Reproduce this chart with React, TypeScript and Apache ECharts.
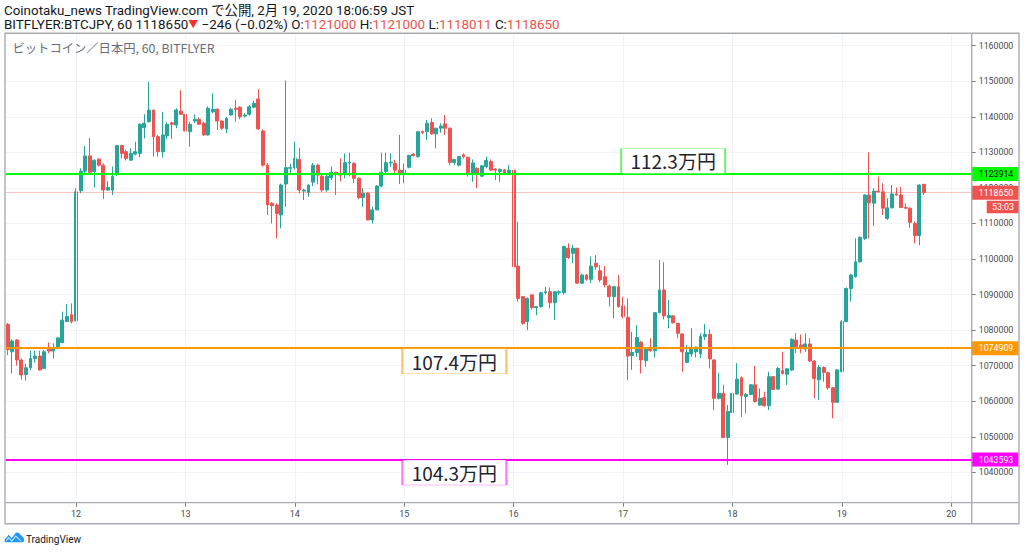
import React, { useEffect, useRef } from "react";
import * as echarts from "echarts";

// ---- Data: hourly candles per day, each tuple = [open, high, low, close] ----
const FEB11: number[][] = [
  [1081600, 1082000, 1073000, 1074500],
  [1073900, 1077400, 1067800, 1076900],
  [1077200, 1077500, 1070000, 1071600],
  [1071600, 1072000, 1066100, 1067400],
  [1067500, 1070500, 1065800, 1069400],
  [1069400, 1074200, 1068800, 1072000],
  [1072000, 1074200, 1070800, 1072700],
  [1072700, 1074200, 1068600, 1068800],
  [1069200, 1074400, 1069000, 1073900],
  [1074800, 1076500, 1073500, 1074100],
  [1074100, 1076300, 1072000, 1074800],
  [1074800, 1078000, 1074600, 1077800],
  [1076500, 1085200, 1076300, 1082800],
  [1082400, 1087300, 1082300, 1083800],
  [1084300, 1087500, 1081900, 1082400],
];
const FEB12: number[][] = [
  [1082600, 1119900, 1082400, 1118900],
  [1119200, 1125500, 1118500, 1124700],
  [1124700, 1131800, 1124100, 1129000],
  [1129000, 1134000, 1124100, 1124400],
  [1124600, 1128000, 1120100, 1127800],
  [1128100, 1128300, 1126000, 1126400],
  [1126400, 1126900, 1116900, 1119400],
  [1119400, 1121900, 1119200, 1120100],
  [1119400, 1126000, 1118000, 1123300],
  [1123900, 1132100, 1123300, 1131900],
  [1131900, 1132100, 1128300, 1129700],
  [1130200, 1130700, 1127700, 1128300],
  [1127800, 1131100, 1127700, 1129700],
  [1129500, 1133000, 1129200, 1130200],
  [1129700, 1138200, 1128600, 1137900],
  [1136900, 1140700, 1133900, 1138200],
  [1138600, 1149900, 1138400, 1141900],
  [1141900, 1142000, 1128800, 1134400],
  [1134400, 1134900, 1128800, 1130200],
  [1130200, 1141400, 1128500, 1134900],
  [1134700, 1138400, 1133700, 1137900],
  [1138300, 1138600, 1133700, 1137900],
  [1137700, 1142400, 1136800, 1141900],
  [1141600, 1147500, 1140500, 1140700],
];
const FEB13: number[][] = [
  [1140700, 1141000, 1130000, 1136000],
  [1135800, 1138600, 1131600, 1137900],
  [1138800, 1140700, 1138200, 1139300],
  [1139300, 1139800, 1137700, 1137900],
  [1138200, 1138600, 1134700, 1134900],
  [1134900, 1142900, 1134700, 1142400],
  [1141400, 1146600, 1141000, 1142100],
  [1142100, 1142400, 1136300, 1138800],
  [1138800, 1139000, 1136300, 1136800],
  [1136600, 1140000, 1135400, 1139600],
  [1140500, 1142600, 1140300, 1142100],
  [1142400, 1144700, 1138600, 1142100],
  [1142700, 1143000, 1139300, 1140000],
  [1140200, 1141000, 1139800, 1140500],
  [1140700, 1143300, 1140300, 1142800],
  [1142700, 1144500, 1142400, 1143800],
  [1145000, 1147800, 1136300, 1136600],
  [1136000, 1136500, 1126000, 1126400],
  [1126400, 1127000, 1112400, 1115200],
  [1115700, 1116000, 1110000, 1115000],
  [1115200, 1115700, 1105800, 1112800],
  [1112400, 1121200, 1108600, 1120800],
  [1121100, 1150200, 1114700, 1125700],
  [1125500, 1126800, 1124000, 1125700],
];
const FEB14: number[][] = [
  [1125700, 1133000, 1125200, 1128300],
  [1128000, 1131300, 1118400, 1119400],
  [1119100, 1119700, 1116600, 1119400],
  [1118700, 1121000, 1117500, 1120800],
  [1121600, 1127000, 1120500, 1126400],
  [1126400, 1126800, 1121000, 1123600],
  [1123300, 1123800, 1118800, 1119400],
  [1119400, 1124100, 1118900, 1123300],
  [1122900, 1126000, 1122200, 1124400],
  [1124400, 1124500, 1118000, 1124000],
  [1124000, 1128300, 1121800, 1123600],
  [1124100, 1129700, 1122700, 1127100],
  [1127000, 1129900, 1123200, 1127200],
  [1126900, 1127200, 1121300, 1122700],
  [1122700, 1123000, 1116800, 1117300],
  [1117300, 1119900, 1114700, 1118500],
  [1118500, 1118800, 1110900, 1111000],
  [1111000, 1114700, 1110000, 1113800],
  [1113800, 1120800, 1113800, 1120500],
  [1120500, 1129900, 1120200, 1124400],
  [1124600, 1129900, 1123900, 1127100],
  [1127000, 1129700, 1125900, 1127200],
  [1126900, 1127900, 1124100, 1125000],
  [1125000, 1134900, 1121100, 1124100],
];
const FEB15: number[][] = [
  [1124100, 1126900, 1121300, 1125000],
  [1125800, 1129300, 1125500, 1129100],
  [1129500, 1129800, 1128800, 1129100],
  [1128800, 1136000, 1128500, 1135800],
  [1135800, 1136100, 1135100, 1135500],
  [1135800, 1139100, 1133500, 1138200],
  [1138400, 1139600, 1134900, 1135200],
  [1135200, 1136800, 1131100, 1136800],
  [1136800, 1138200, 1135500, 1137400],
  [1138000, 1140500, 1134900, 1136800],
  [1136800, 1137000, 1126400, 1127200],
  [1127100, 1128100, 1126400, 1128000],
  [1126400, 1129000, 1126000, 1128800],
  [1129300, 1129700, 1128300, 1128800],
  [1128600, 1128800, 1123200, 1124100],
  [1123900, 1128000, 1121700, 1127000],
  [1125500, 1125800, 1119900, 1124100],
  [1123300, 1126500, 1123000, 1126200],
  [1126000, 1128800, 1125500, 1127700],
  [1127400, 1128000, 1124800, 1125000],
  [1125300, 1125500, 1122200, 1125000],
  [1124600, 1125500, 1121700, 1125200],
  [1125100, 1125300, 1123900, 1124100],
  [1124100, 1126400, 1123800, 1125000],
];
const FEB16: number[][] = [
  [1125000, 1125300, 1097500, 1097800],
  [1098000, 1110500, 1088000, 1088900],
  [1089400, 1089600, 1081500, 1081900],
  [1082400, 1089200, 1080000, 1088900],
  [1089900, 1090200, 1085800, 1086300],
  [1086300, 1086800, 1084200, 1086600],
  [1086600, 1090800, 1086300, 1090500],
  [1090500, 1092200, 1090000, 1090800],
  [1090800, 1092000, 1086100, 1087700],
  [1087700, 1091000, 1082800, 1090800],
  [1090500, 1091200, 1089900, 1090800],
  [1090500, 1103800, 1090000, 1103500],
  [1103000, 1104400, 1100000, 1100400],
  [1101600, 1103900, 1098800, 1103000],
  [1103000, 1103200, 1093000, 1093200],
  [1093200, 1095800, 1093000, 1095500],
  [1095500, 1095800, 1093900, 1094300],
  [1094300, 1100700, 1093200, 1098000],
  [1098800, 1101100, 1097000, 1097800],
  [1096700, 1098300, 1093500, 1094100],
  [1095000, 1098000, 1092000, 1092700],
  [1092400, 1092800, 1086600, 1089400],
  [1089400, 1092500, 1083300, 1092200],
  [1092200, 1095500, 1086300, 1086600],
];
const FEB17: number[][] = [
  [1086800, 1089400, 1083300, 1083800],
  [1083600, 1088900, 1066000, 1072700],
  [1072800, 1079500, 1068800, 1073700],
  [1073700, 1081400, 1072500, 1077900],
  [1076600, 1077000, 1067800, 1071600],
  [1071400, 1075000, 1069700, 1074700],
  [1074700, 1077700, 1073900, 1074200],
  [1074200, 1085000, 1072300, 1084900],
  [1084900, 1099700, 1084700, 1091300],
  [1091300, 1099100, 1083000, 1084000],
  [1083500, 1088500, 1080500, 1084100],
  [1084000, 1084200, 1081800, 1082100],
  [1081900, 1082000, 1077700, 1079100],
  [1078900, 1079100, 1068300, 1073900],
  [1070900, 1075800, 1070700, 1073700],
  [1073300, 1080500, 1072500, 1074700],
  [1073900, 1075400, 1072300, 1075200],
  [1073300, 1079100, 1072100, 1078200],
  [1078200, 1081700, 1077200, 1078800],
  [1078800, 1080200, 1069200, 1071900],
  [1071600, 1071800, 1057500, 1060800],
  [1060800, 1068000, 1060500, 1062200],
  [1062200, 1064600, 1049600, 1049800],
  [1049800, 1058900, 1042100, 1057100],
];
const FEB18: number[][] = [
  [1056800, 1062500, 1050500, 1062200],
  [1062000, 1070700, 1061800, 1066200],
  [1066600, 1067000, 1055600, 1061500],
  [1061300, 1062300, 1056600, 1061900],
  [1061900, 1064800, 1061700, 1064600],
  [1064600, 1069900, 1059600, 1059900],
  [1058900, 1063600, 1058700, 1060800],
  [1061000, 1062700, 1058500, 1058700],
  [1058700, 1068300, 1057500, 1066900],
  [1066900, 1067100, 1063200, 1063300],
  [1063400, 1069700, 1063200, 1069200],
  [1068600, 1073900, 1067500, 1067800],
  [1067600, 1069300, 1064600, 1069100],
  [1068800, 1077700, 1068500, 1077400],
  [1077200, 1079100, 1073500, 1075300],
  [1075800, 1078800, 1073500, 1075300],
  [1074700, 1079100, 1073900, 1076100],
  [1076100, 1077700, 1071000, 1071300],
  [1071300, 1071500, 1060800, 1066400],
  [1066000, 1070200, 1060300, 1069500],
  [1069500, 1069800, 1065500, 1068100],
  [1068000, 1068300, 1063200, 1063800],
  [1063800, 1064000, 1055200, 1059700],
  [1059700, 1069000, 1059500, 1068800],
];
const FEB19: number[][] = [
  [1068300, 1082800, 1068100, 1082400],
  [1082400, 1092000, 1082200, 1091700],
  [1091700, 1095800, 1088000, 1095500],
  [1095000, 1105800, 1094800, 1099200],
  [1099200, 1106300, 1099000, 1106100],
  [1105800, 1118200, 1105300, 1118000],
  [1118000, 1130000, 1105800, 1115800],
  [1115700, 1119900, 1109300, 1119100],
  [1119100, 1123200, 1118700, 1118900],
  [1118900, 1121300, 1112400, 1114300],
  [1111400, 1117100, 1111000, 1114400],
  [1114400, 1120800, 1114200, 1118300],
  [1118300, 1120100, 1117800, 1118000],
  [1118000, 1120300, 1114300, 1114500],
  [1114500, 1115700, 1114000, 1114300],
  [1114300, 1114500, 1108800, 1110300],
  [1110000, 1110500, 1104400, 1106600],
  [1106600, 1121000, 1103900, 1120800],
  [1121000, 1121000, 1118011, 1118650],
];

const DAYS: number[][][] = [FEB11, FEB12, FEB13, FEB14, FEB15, FEB16, FEB17, FEB18, FEB19];
const START_DAY = 11;
const START_HOUR = 9;
const SLOT_COUNT = 212; // hourly slots shown on the axis (data + empty space on the right)

// Horizontal levels (support / resistance)
const LEVEL_VALUES = [1123914, 1074909, 1043593];
const LEVEL_COLORS = ["#00ff00", "#ff9800", "#ff00ff"];
const LEVEL_TAG_TEXT = ["#000000", "#ffffff", "#ffffff"];
const LEVEL_BOX_TEXT = ["112.3万円", "107.4万円", "104.3万円"];
const LEVEL_BOX_BORDER = ["rgba(0,230,0,0.55)", "rgba(255,152,0,0.6)", "rgba(255,0,255,0.55)"];
const LEVEL_BOX_SLOT = ["2/17 11:00", "2/15 11:00", "2/15 11:00"];
const LEVEL_BOX_SIDE = [-1, 1, 1]; // -1 above the line, 1 below

const Y_MIN = 1031450;
const Y_MAX = 1163570;
const Y_STEP = 10000;

const PUBLISH_LINE = "Coinotaku_news TradingView.com で公開, 2月 19, 2020 18:06:59 JST";
const SYMBOL_LINE = "BITFLYER:BTCJPY, 60";
const CHANGE_TEXT = "−246 (−0.02%)";
const CHART_TITLE = "ビットコイン／日本円, 60, BITFLYER";
const COUNTDOWN = "53:03";

const UP = "#26a69a";
const DOWN = "#ef5350";
const FONT = 'Roboto, "Noto Sans CJK JP", sans-serif';
const CJK = '"Noto Sans CJK JP", Roboto, sans-serif';

echarts.graphic.registerShape(
  "tvlogo",
  echarts.graphic.extendPath(
    "M2 10 C0 10 0 6.5 2 6 L4.6 2.4 L7.8 5.8 L11.6 0.6 C13 -0.2 14.2 0 15.4 1.2 L19 5 C21 6.6 20.5 10 18 10 Z",
    {}
  )
);

function slotName(k: number): string {
  const h = START_HOUR + k;
  const day = START_DAY + Math.floor(h / 24);
  const hour = h % 24;
  return `2/${day} ${hour < 10 ? "0" + hour : hour}:00`;
}

export default function App() {
  const ref = useRef<HTMLDivElement>(null);

  useEffect(() => {
    const el = ref.current;
    if (!el) return;
    const chart = echarts.init(el, null, { renderer: "svg" });

    const candles = DAYS.flat();
    const cats = Array.from({ length: SLOT_COUNT }, (_, k) => slotName(k));
    const seriesData = candles.map(([o, h, l, c]) => [o, c, l, h]);
    const last = candles[candles.length - 1];
    const lastClose = last[3];
    const isDayStart = (index: number) => (START_HOUR + index) % 24 === 0;
    const daySlots = cats.filter((_, k) => isDayStart(k));

    const tagLabel = (bg: string, fg: string) => ({
      show: true,
      position: "end",
      distance: 0,
      backgroundColor: bg,
      color: fg,
      fontSize: 8.8,
      fontFamily: FONT,
      lineHeight: 9,
      padding: [2.5, 4, 2.5, 7],
      width: 36,
      align: "left",
    });

    const levelLines: any[] = LEVEL_VALUES.map((v, k) => ({
      yAxis: v,
      lineStyle: { color: LEVEL_COLORS[k], width: 2, type: "solid" },
      label: { ...tagLabel(LEVEL_COLORS[k], LEVEL_TAG_TEXT[k]), formatter: String(v) },
    }));
    levelLines.push({
      yAxis: lastClose,
      lineStyle: { color: "rgba(239,83,80,0.35)", width: 1, type: "solid" },
      label: { ...tagLabel(DOWN, "#ffffff"), formatter: String(lastClose) },
    });

    const option: any = {
      animation: false,
      backgroundColor: "#ffffff",
      grid: { left: 5.4, top: 33, right: 52.3, bottom: 49.3, containLabel: false },
      xAxis: {
        type: "category",
        data: cats,
        boundaryGap: true,
        axisLine: { show: false },
        axisTick: {
          show: true,
          alignWithLabel: true,
          interval: (i: number) => isDayStart(i),
          length: 4,
          lineStyle: { color: "#787b86" },
        },
        axisLabel: {
          interval: (i: number) => isDayStart(i),
          formatter: (v: string) => v.split(" ")[0].split("/")[1],
          fontSize: 9,
          color: "#4a4a4a",
          fontFamily: FONT,
          margin: 7,
        },
        splitLine: { show: false },
      },
      yAxis: {
        type: "value",
        position: "right",
        min: Y_MIN,
        max: Y_MAX,
        splitNumber: 13,
        axisLine: { show: false },
        axisTick: { show: true, length: 4, lineStyle: { color: "#787b86" } },
        axisLabel: {
          margin: 7,
          fontSize: 8.8,
          color: "#4a4a4a",
          fontFamily: FONT,
          showMinLabel: false,
          showMaxLabel: false,
          formatter: (v: number) => (Math.abs(v % Y_STEP) < 1e-6 ? String(v) : ""),
        },
        splitLine: { show: true, lineStyle: { color: "#f0f3fa", width: 1 } },
      },
      series: [
        {
          type: "line",
          data: [],
          z: 1,
          silent: true,
          markLine: {
            silent: true,
            symbol: ["none", "none"],
            label: { show: false },
            lineStyle: { color: "#f0f3fa", width: 1, type: "solid" },
            data: daySlots.map((c) => ({ xAxis: c })),
          },
        },
        {
          type: "candlestick",
          data: seriesData,
          z: 2,
          barWidth: 3.4,
          itemStyle: {
            color: UP,
            color0: DOWN,
            borderColor: UP,
            borderColor0: DOWN,
            borderWidth: 1,
          },
          markLine: {
            silent: true,
            symbol: ["none", "none"],
            precision: 0,
            data: levelLines,
          },
          markPoint: {
            silent: true,
            data: LEVEL_VALUES.map((v, k) => ({
              coord: [LEVEL_BOX_SLOT[k], v],
              value: v,
              symbol: "rect",
              symbolSize: [104, 25],
              symbolOffset: [0, LEVEL_BOX_SIDE[k] * 13],
              itemStyle: { color: "#ffffff", borderColor: LEVEL_BOX_BORDER[k], borderWidth: 1 },
              label: {
                show: true,
                position: "inside",
                formatter: LEVEL_BOX_TEXT[k],
                fontSize: 19,
                color: "#1e222d",
                fontFamily: CJK,
              },
            })),
          },
        },
      ],
    };

    chart.setOption(option);

    const yLast = chart.convertToPixel({ yAxisIndex: 0 }, lastClose) as number;
    const fmt = (n: number) => String(n);

    chart.setOption({
      graphic: [
        // frame
        {
          type: "rect",
          z: 50,
          silent: true,
          shape: { x: 5, y: 33.3, width: 1014, height: 490.4 },
          style: { fill: "none", stroke: "#a9acb4", lineWidth: 1.4 },
        },
        {
          type: "line",
          z: 50,
          silent: true,
          shape: { x1: 971.7, y1: 33.3, x2: 971.7, y2: 523.7 },
          style: { stroke: "#a9acb4", lineWidth: 1.4 },
        },
        {
          type: "line",
          z: 50,
          silent: true,
          shape: { x1: 5, y1: 502.7, x2: 1019, y2: 502.7 },
          style: { stroke: "#a9acb4", lineWidth: 1.2 },
        },
        // header
        {
          type: "text",
          x: 4,
          y: 10.5,
          z: 60,
          style: {
            text: PUBLISH_LINE,
            fill: "#131722",
            fontSize: 13.4,
            fontFamily: FONT,
            verticalAlign: "middle",
          },
        },
        {
          type: "text",
          x: 4,
          y: 24.5,
          z: 60,
          style: {
            text:
              `{d|${SYMBOL_LINE} ${fmt(lastClose)}}{t|▼}{d| ${CHANGE_TEXT} O:}{r|${fmt(last[0])}}` +
              `{d| H:}{r|${fmt(last[1])}}{d| L:}{r|${fmt(last[2])}}{d| C:}{r|${fmt(last[3])}}`,
            fontSize: 13.4,
            fontFamily: FONT,
            verticalAlign: "middle",
            rich: {
              d: { fill: "#131722", fontSize: 13.4, fontFamily: FONT },
              r: { fill: DOWN, fontSize: 13.4, fontFamily: FONT },
              t: { fill: "#f23030", fontSize: 10, fontFamily: FONT },
            },
          },
        },
        {
          type: "text",
          x: 12.5,
          y: 47.5,
          z: 60,
          style: {
            text: CHART_TITLE,
            fill: "#6a6d78",
            fontSize: 12.3,
            fontFamily: CJK,
            verticalAlign: "middle",
          },
        },
        // countdown tag under the last price tag
        {
          type: "group",
          x: 986.7,
          y: yLast + 8,
          z: 70,
          children: [
            { type: "rect", shape: { x: 0, y: 0, width: 32.3, height: 12.6 }, style: { fill: DOWN } },
            {
              type: "text",
              x: 16.2,
              y: 6.5,
              style: {
                text: COUNTDOWN,
                fill: "#ffffff",
                fontSize: 8.8,
                fontFamily: FONT,
                align: "center",
                verticalAlign: "middle",
              },
            },
          ],
        },
        // TradingView logo
        {
          type: "tvlogo",
          x: 4,
          y: 532.3,
          z: 60,
          style: { fill: "#2196f3" },
        },
        {
          type: "polyline",
          x: 4,
          y: 532.3,
          z: 61,
          shape: { points: [[2.4, 8.4], [4.6, 5.4], [7.8, 8.8], [11.7, 3.8], [16.8, 8.6]] },
          style: { stroke: "#bfe3fb", lineWidth: 1.1, fill: "none" },
        },
        {
          type: "text",
          x: 26,
          y: 539,
          z: 60,
          style: {
            text: "TradingView",
            fill: "#131722",
            fontSize: 10,
            fontFamily: FONT,
            verticalAlign: "middle",
          },
        },
      ],
    });

    return () => {
      chart.dispose();
    };
  }, []);

  return (
    <div
      ref={ref}
      style={{ position: "absolute", left: 0, top: 0, width: 1024, height: 552, background: "#ffffff" }}
    />
  );
}
